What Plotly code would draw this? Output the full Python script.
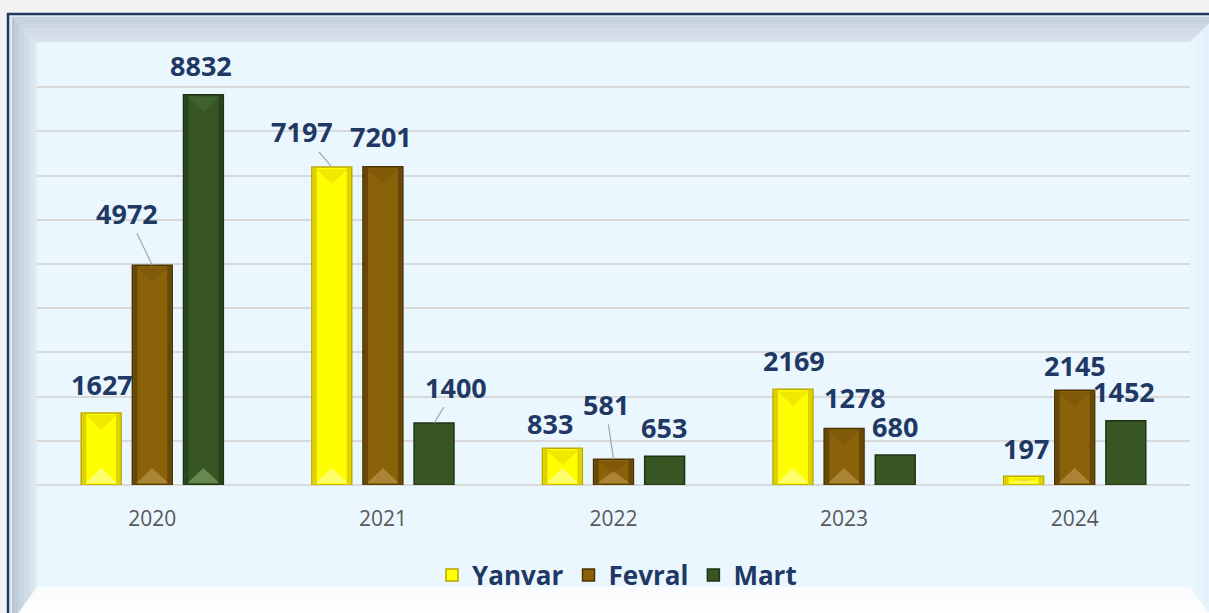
import plotly.graph_objects as go

# ---------------- data ----------------
years = ["2020", "2021", "2022", "2023", "2024"]
yanvar = [1627, 7197, 833, 2169, 197]
fevral = [4972, 7201, 581, 1278, 2145]
mart = [8832, 1400, 653, 680, 1452]
series_names = ["Yanvar", "Fevral", "Mart"]

# ---------------- styling ----------------
W, H = 1209, 613
ML, MR, MT, MB = 37, 19, 43, 128
PW, PH = W - ML - MR, H - MT - MB
NAVY = "#1F3864"
body = ["#FFFF00", "#8A620A", "#375623"]
edge = ["#D4C600", "#5E4207", "#26401A"]
top_tri = ["#E8DA00", "#7A5508", "#466A33"]
bot_tri = ["#FFFF80", "#B08B3E", "#6E9258"]
line_col = ["#B8A800", "#4A3304", "#1E3314"]
LABEL_FONT = "Open Sans"

BARGAP = 0.335
GROUPGAP = 0.22
slot = (1 - BARGAP) / 3
offsets = [-slot, 0.0, slot]
half_px = PW / len(years) * slot * (1 - GROUPGAP) / 2

def px(x):
    return (x - ML) / PW

def py(y):
    return (H - MB - y) / PH

fig = go.Figure()
all_vals = [yanvar, fevral, mart]
for i, (name, vals) in enumerate(zip(series_names, all_vals)):
    fig.add_trace(go.Bar(
        name="<b>" + name + "</b>", x=years, y=vals,
        marker=dict(color=body[i], line=dict(color=line_col[i], width=1.5)),
        hoverinfo="skip",
    ))

shapes = []

# ---------- frame with bevel ----------
def hexmix(a, b, t):
    a = [int(a[k:k + 2], 16) for k in (1, 3, 5)]
    b = [int(b[k:k + 2], 16) for k in (1, 3, 5)]
    return "#%02x%02x%02x" % tuple(round(a[j] + (b[j] - a[j]) * t) for j in range(3))

L, T, R, B = 12, 17, 1216, 622
IL, IT, IR, IB = 37, 42, 1190, 587

def poly(pts):
    return "M " + " L ".join("%.5f,%.5f" % (px(x), py(y)) for x, y in pts) + " Z"

shapes.append(dict(type="rect", xref="paper", yref="paper", x0=px(8), x1=px(1220),
                   y0=py(14), y1=py(630), fillcolor="#E0E8EF",
                   line=dict(color=NAVY, width=2.5), layer="below"))

def band(outer, inner, c0, c1, n=10):
    for k in range(n):
        t0, t1 = k / n, (k + 1) / n
        a0 = [(o[0] + (q[0] - o[0]) * t0, o[1] + (q[1] - o[1]) * t0) for o, q in zip(outer, inner)]
        a1 = [(o[0] + (q[0] - o[0]) * t1, o[1] + (q[1] - o[1]) * t1) for o, q in zip(outer, inner)]
        shapes.append(dict(type="path", xref="paper", yref="paper",
                           path=poly([a0[0], a0[1], a1[1], a1[0]]),
                           fillcolor=hexmix(c0, c1, (t0 + t1) / 2),
                           line=dict(width=0), layer="below"))

band([(L, T), (R, T)], [(IL, IT), (IR, IT)], "#C3CFDB", "#DAE3EC")
band([(L, T), (L, B)], [(IL, IT), (IL, IB)], "#B4C4D2", "#E2EDF4", n=8)
band([(R, T), (R, B)], [(IR, IT), (IR, IB)], "#E2F0F9", "#E8F8FE", n=4)
band([(L, B), (R, B)], [(IL, IB), (IR, IB)], "#FFFFFF", "#F9FCFE", n=3)
shapes.append(dict(type="rect", xref="paper", yref="paper", x0=px(IL), x1=px(IR),
                   y0=py(IB), y1=py(IT), fillcolor="#EBF7FE", line=dict(width=0), layer="below"))

# ---------- bevel decoration on bars ----------
tri_h = 15
for i, vals in enumerate(all_vals):
    for j, v in enumerate(vals):
        if i == 2 and j > 0:
            continue
        xc = j + offsets[i]
        hw = half_px
        th = min(tri_h, v * PH / 10000 / 2.2)
        common = dict(xref="x", yref="y", xsizemode="pixel", ysizemode="pixel",
                      xanchor=xc, line=dict(width=0), layer="above")
        shapes.append(dict(type="path", yanchor=0,
                           path="M %.1f,%.1f L 0,%.1f L %.1f,%.1f Z" % (-hw + 4, 2, th + 2, hw - 4, 2),
                           fillcolor=bot_tri[i], opacity=0.85, **common))
        shapes.append(dict(type="path", yanchor=v,
                           path="M %.1f,%.1f L 0,%.1f L %.1f,%.1f Z" % (-hw + 4, -2, -th - 2, hw - 4, -2),
                           fillcolor=top_tri[i], opacity=0.6, **common))
        for s in (-1, 1):
            shapes.append(dict(type="rect", xref="x", yref="y", xsizemode="pixel",
                               xanchor=xc, x0=s * (hw - 1), x1=s * (hw - 5), y0=0, y1=v,
                               fillcolor=edge[i], opacity=0.8, line=dict(width=0), layer="above"))

# ---------- data labels ----------
# (dx, dy) pixel offset of label centre from bar top-centre; lead = leader line
label_pos = {
    (0, 0): (1, -29, False), (1, 0): (-25, -52, True), (2, 0): (-2, -29, False),
    (0, 1): (-30, -35, True), (1, 1): (-2, -30, False), (2, 1): (22, -36, True),
    (0, 2): (-12, -25, False), (1, 2): (-8, -55, True), (2, 2): (-1, -29, False),
    (0, 3): (1, -29, False), (1, 3): (11, -31, False), (2, 3): (0, -28, False),
    (0, 4): (2, -28, False), (1, 4): (0, -25, False), (2, 4): (-2, -29, False),
}
annotations = []
for i, vals in enumerate(all_vals):
    for j, v in enumerate(vals):
        dx, dy, lead = label_pos[(i, j)]
        annotations.append(dict(
            x=j + offsets[i], y=v, xref="x", yref="y", text="<b>%d</b>" % v,
            showarrow=True, ax=dx, ay=dy, arrowhead=0, arrowwidth=1.2,
            arrowcolor="#A6A6A6" if lead else "rgba(0,0,0,0)", standoff=0,
            font=dict(family=LABEL_FONT, size=27, color=NAVY),
        ))

fig.update_layout(
    width=W, height=H, autosize=False,
    margin=dict(l=ML, r=MR, t=MT, b=MB),
    paper_bgcolor="#F2F2F2", plot_bgcolor="rgba(0,0,0,0)",
    barmode="group", bargap=BARGAP, bargroupgap=GROUPGAP,
    shapes=shapes, annotations=annotations,
    xaxis=dict(type="category", showgrid=False, showline=False, ticks="",
               tickfont=dict(family="Open Sans", size=21, color="#595959"),
               ticklabelstandoff=19),
    yaxis=dict(range=[0, 10000], dtick=1000, showticklabels=False,
               gridcolor="#D9D9D9", gridwidth=1.5, zeroline=True,
               zerolinecolor="#D9D9D9", zerolinewidth=1.5, showline=False),
    legend=dict(orientation="h", x=px(617), xanchor="center", y=py(575), yanchor="middle",
                font=dict(family=LABEL_FONT, size=26, color=NAVY), bgcolor="rgba(0,0,0,0)",
                itemwidth=30, traceorder="normal"),
    showlegend=True,
)

fig.write_html("out.html", config={"displayModeBar": False},
               post_script="document.body.style.margin='0';document.body.style.overflow='hidden';")
